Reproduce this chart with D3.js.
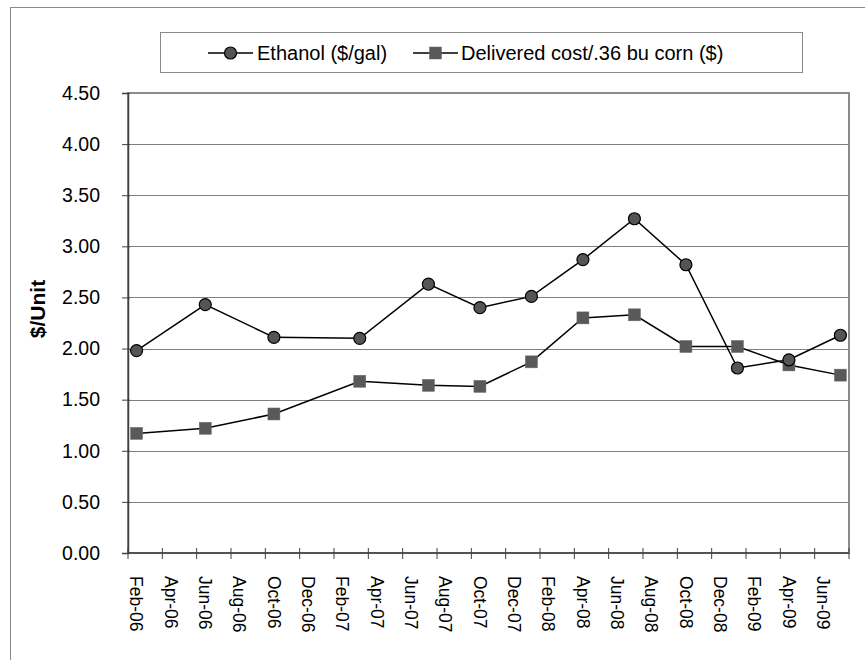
<!DOCTYPE html>
<html>
<head>
<meta charset="utf-8">
<script src="https://cdn.jsdelivr.net/npm/d3@7"></script>
<style>
  html, body { margin: 0; padding: 0; background: #fff; }
  svg { display: block; font-family: "Liberation Sans", Arial, sans-serif; }
</style>
</head>
<body>
<svg id="chart" width="865" height="660"></svg>
<script>
// Observation months (YYYY-MM) and the two price series
const dates   = ["2006-02","2006-06","2006-10","2007-03","2007-07","2007-10","2008-01","2008-04","2008-07","2008-10","2009-01","2009-04","2009-07"];
const ethanol = [1.98, 2.43, 2.11, 2.10, 2.63, 2.40, 2.51, 2.87, 3.27, 2.82, 1.81, 1.89, 2.13];
const corn    = [1.17, 1.22, 1.36, 1.68, 1.64, 1.63, 1.87, 2.30, 2.33, 2.02, 2.02, 1.84, 1.74];

const seriesNames = ["Ethanol ($/gal)", "Delivered cost/.36 bu corn ($)"];
const yTicks = [0, 0.5, 1, 1.5, 2, 2.5, 3, 3.5, 4, 4.5];
const axisStart = "2006-02", axisEnd = "2009-07";

const svg = d3.select("#chart");
const parse = d3.timeParse("%Y-%m");
const fmtKey = d3.timeFormat("%Y-%m");
const fmtLabel = d3.timeFormat("%b-%y");

// One band per calendar month on the date axis
const months = d3.timeMonth.range(parse(axisStart), d3.timeMonth.offset(parse(axisEnd), 1)).map(fmtKey);

const plot = { left: 128, right: 849, top: 93, bottom: 553 };

const x = d3.scaleBand().domain(months).range([plot.left, plot.right]).padding(0);
const y = d3.scaleLinear().domain([0, 4.5]).range([plot.bottom, plot.top]);
const xc = k => x(k) + x.bandwidth() / 2;

// Outer chart frame
svg.append("rect")
  .attr("x", 10.5).attr("y", 7.5).attr("width", 900).attr("height", 700)
  .attr("fill", "none").attr("stroke", "#8a8a8a").attr("stroke-width", 1);

// Horizontal gridlines
svg.append("g")
  .selectAll("line").data(yTicks.filter(d => d > 0)).join("line")
  .attr("x1", plot.left).attr("x2", plot.right)
  .attr("y1", d => Math.round(y(d)) + 0.5).attr("y2", d => Math.round(y(d)) + 0.5)
  .attr("stroke", "#808080").attr("stroke-width", 1);

// Plot area border
svg.append("rect")
  .attr("x", plot.left).attr("y", plot.top)
  .attr("width", plot.right - plot.left).attr("height", plot.bottom - plot.top)
  .attr("fill", "none").attr("stroke", "#8c8c8c").attr("stroke-width", 2);

// Y axis
const yAxis = d3.axisLeft(y).tickValues(yTicks).tickFormat(d3.format(".2f")).tickSize(6).tickPadding(22);
const gy = svg.append("g").attr("transform", `translate(${plot.left},0)`).call(yAxis);
gy.select(".domain").attr("stroke", "#404040").attr("stroke-width", 1.5);
gy.selectAll(".tick line").attr("stroke", "#404040").attr("x2", 2).attr("x1", -6);
gy.selectAll(".tick text").attr("font-size", 19.5).attr("fill", "#000")
  .attr("font-family", "'Liberation Sans', Arial, sans-serif");

// X axis: a tick every two months at the month boundary, label centred in the month
const tickMonths = months.filter((d, i) => i % 2 === 0);
const gx = svg.append("g").attr("transform", `translate(0,${plot.bottom})`);
gx.append("line")
  .attr("x1", plot.left).attr("x2", plot.right).attr("y1", 0).attr("y2", 0)
  .attr("stroke", "#404040").attr("stroke-width", 1.5);
gx.selectAll("line.tick").data(tickMonths.concat(["__end"])).join("line")
  .attr("class", "tick")
  .attr("x1", d => d === "__end" ? plot.right : x(d)).attr("x2", d => d === "__end" ? plot.right : x(d))
  .attr("y1", -5).attr("y2", 6)
  .attr("stroke", "#404040").attr("stroke-width", 1);
gx.selectAll("text").data(tickMonths).join("text")
  .attr("transform", d => `translate(${xc(d)},23) rotate(90)`)
  .attr("dy", "0.35em")
  .attr("text-anchor", "start")
  .attr("font-size", 17.5)
  .attr("fill", "#000")
  .text(d => fmtLabel(parse(d)));

// Y axis title
svg.append("text")
  .attr("transform", `translate(38,309) rotate(-90)`)
  .attr("dy", "0.35em")
  .attr("text-anchor", "middle")
  .attr("font-size", 21).attr("font-weight", "bold")
  .text("$/Unit");

// Series lines and markers
const line = d3.line().x(d => xc(d[0])).y(d => y(d[1]));
const ethPts = dates.map((d, i) => [d, ethanol[i]]);
const cornPts = dates.map((d, i) => [d, corn[i]]);

svg.append("path").datum(ethPts).attr("d", line)
  .attr("fill", "none").attr("stroke", "#000").attr("stroke-width", 1.5);
svg.append("path").datum(cornPts).attr("d", line)
  .attr("fill", "none").attr("stroke", "#000").attr("stroke-width", 1.5);

const sq = 12;
svg.append("g").selectAll("rect").data(cornPts).join("rect")
  .attr("x", d => xc(d[0]) - sq / 2).attr("y", d => y(d[1]) - sq / 2)
  .attr("width", sq).attr("height", sq)
  .attr("fill", "#595959").attr("stroke", "#6a6a6a").attr("stroke-width", 0.5);

svg.append("g").selectAll("circle").data(ethPts).join("circle")
  .attr("cx", d => xc(d[0])).attr("cy", d => y(d[1])).attr("r", 6)
  .attr("fill", "#555555").attr("stroke", "#000").attr("stroke-width", 1.2);

// Legend
const lg = svg.append("g");
lg.append("rect")
  .attr("x", 160.5).attr("y", 32.5).attr("width", 642).attr("height", 40)
  .attr("fill", "#fff").attr("stroke", "#8a8a8a").attr("stroke-width", 1);

const legendY = 53;
const items = [
  { name: seriesNames[0], x0: 208, x1: 253, mark: "circle", tx: 257 },
  { name: seriesNames[1], x0: 413, x1: 458, mark: "square", tx: 461 }
];
items.forEach(it => {
  lg.append("line").attr("x1", it.x0).attr("x2", it.x1).attr("y1", legendY).attr("y2", legendY)
    .attr("stroke", "#000").attr("stroke-width", 1.5);
  const mx = (it.x0 + it.x1) / 2;
  if (it.mark === "circle") {
    lg.append("circle").attr("cx", mx).attr("cy", legendY).attr("r", 6)
      .attr("fill", "#555555").attr("stroke", "#000").attr("stroke-width", 1.2);
  } else {
    lg.append("rect").attr("x", mx - sq / 2).attr("y", legendY - sq / 2).attr("width", sq).attr("height", sq)
      .attr("fill", "#595959").attr("stroke", "#6a6a6a").attr("stroke-width", 0.5);
  }
  lg.append("text").attr("x", it.tx).attr("y", legendY).attr("dy", "0.35em")
    .attr("font-size", 20).attr("fill", "#000").text(it.name);
});
</script>
</body>
</html>
